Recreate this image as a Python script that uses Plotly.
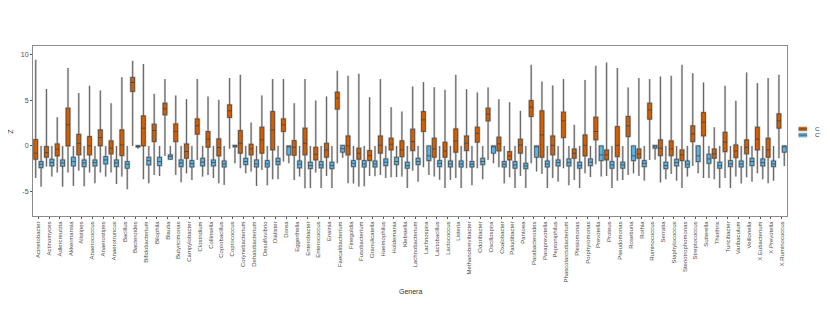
import plotly.graph_objects as go

GENERA = [
    "Acinetobacter", "Actinomyces", "Adlercreutzia", "Akkermansia", "Alistipes",
    "Anaerococcus", "Anaerostipes", "Anaerotruncus", "Bacillus", "Bacteroides",
    "Bifidobacterium", "Bilophila", "Blautia", "Butyricimonas", "Campylobacter",
    "Clostridium", "Collinsella", "Coprobacillus", "Coprococcus", "Corynebacterium",
    "Dehalobacterium", "Desulfovibrio", "Dialister", "Dorea", "Eggerthella",
    "Enterobacter", "Enterococcus", "Erwinia", "Faecalibacterium", "Finegoldia",
    "Fusobacterium", "Granulicatella", "Haemophilus", "Holdemania", "Klebsiella",
    "Lachnobacterium", "Lachnospira", "Lactobacillus", "Lactococcus", "Listeria",
    "Methanobrevibacter", "Odoribacter", "Oscillospira", "Oxalobacter", "Paludibacter",
    "Pantoea", "Parabacteroides", "Paraprevotella", "Peptoniphilus", "Phascolarctobacterium",
    "Plesiomonas", "Porphyromonas", "Prevotella", "Proteus", "Pseudomonas",
    "Roseburia", "Rothia", "Ruminococcus", "Serratia", "Staphylococcus",
    "Stenotrophomonas", "Streptococcus", "Sutterella", "Thiothrix", "Turicibacter",
    "Varibaculum", "Veillonella", "X.Eubacterium", "X.Prevotella", "X.Ruminococcus",
]

# group C (orange)
C_LO = [-3.5, -2.26, -2.9, -2.9, -2.7, -2.9, -2.9, -2.9, -3.35, 0,
        -3.64, -3.17, -1.09, -3.17, -3.0, -1.53, -3.17, -4.08, -0.3, -2.44,
        -2.8, -2.62, -3.64, -1.71, -3.72, -4.63, -2.91, -3.28, -1.9, -4.08,
        -4.44, -3.28, -3.17, -3.43, -3.35, -2.7, -2.33, -3.35, -4.6, -3.5,
        -2.44, -2.44, -1.53, -2.33, -3.43, -3.28, -1.9, -3.06, -3.5, -2.44,
        -3.72, -2.99, -2.0, -3.28, -3.79, -3.17, -3.28, -1.53, -4.0, -3.06,
        -4.6, -2.19, -3.5, -3.64, -3.5, -3.35, -3.43, -2.99, -4.08, -1.35]
C_Q1 = [-1.46, -1.24, -1.09, 0, -0.98, -0.98, 0, -0.87, -1.06, 5.94,
        0, 0.47, 3.39, 0.47, -1.35, 1.27, -0.15, -1.09, 3.1, -0.8,
        -0.98, -0.8, -0.44, 1.57, -1.02, -0.98, -1.53, -1.24, 4.01, -0.98,
        -1.46, -1.6, -0.8, -0.44, -1.17, -0.51, 1.57, -1.24, -1.24, -0.69,
        -0.51, 0.4, 2.73, -0.55, -1.53, -0.8, 3.21, -1.24, -0.98, 0.91,
        -1.35, -1.09, 0.66, -1.53, -1.17, 1.02, -1.35, 2.91, -1.06, -1.06,
        -1.6, 0.47, 1.09, -1.35, -0.62, -1.28, -0.87, -0.44, -1.24, 1.93]
C_MED = [-0.8, -0.73, -0.36, 2.3, 0.29, 0, 0.91, -0.25, 0.11, 6.92,
         1.93, 1.68, 4.04, 1.57, -0.62, 2.19, 0.73, -0.18, 3.83, 0.29,
         -0.33, 0.66, 1.75, 2.3, -0.15, 0.29, -0.91, -0.44, 5.21, 0,
         -0.8, -1.06, 0.07, 0.18, -0.44, 0.47, 2.84, -0.33, -0.55, 0.55,
         0.29, 1.38, 3.46, 0.22, -1.09, 0.11, 4.23, 1.2, 0.07, 2.73,
         -0.8, 0.07, 1.57, -0.98, 0.07, 2.19, -0.87, 3.93, -0.25, -0.33,
         -0.98, 1.31, 2.59, -0.87, 0.4, -0.55, -0.15, 0.73, -0.44, 2.73]
C_Q3 = [0.7, -0.07, 0.22, 4.12, 1.27, 1.02, 1.75, 0.55, 1.75, 7.47,
        3.28, 2.37, 4.66, 2.4, 0.22, 2.95, 1.57, 0.77, 4.48, 1.68,
        0.18, 2.04, 3.75, 2.95, 0.58, 1.93, -0.15, 0.29, 5.87, 1.09,
        -0.25, -0.51, 1.09, 0.84, 0.55, 1.82, 3.75, 0.84, 0.4, 1.86,
        1.09, 2.04, 4.12, 0.95, -0.62, 0.73, 4.95, 3.83, 1.09, 3.68,
        -0.33, 1.2, 3.13, -0.44, 2.11, 3.21, -0.33, 4.66, 0.66, 0.55,
        -0.44, 2.19, 3.64, -0.33, 1.49, 0.11, 0.66, 2.04, 0.84, 3.5]
C_HI = [9.4, 6.2, 3.13, 8.49, 5.76, 6.56, 6.05, 4.66, 7.5, 9.29,
        8.93, 5.68, 7.29, 5.5, 5.1, 7.3, 5.39, 5.03, 7.4, 7.76,
        2.55, 5.5, 7.29, 7.29, 4.66, 7.29, 4.95, 5.39, 8.2, 7.65,
        7.87, 5.32, 7.29, 4.23, 3.75, 6.49, 6.96, 6.41, 6.12, 7.76,
        6.19, 5.83, 6.38, 5.1, 4.77, 3.83, 8.85, 7.03, 6.59, 7.29,
        2.3, 7.2, 8.74, 9.1, 8.49, 6.38, 7.4, 7.29, 7.58, 7.65,
        8.85, 7.94, 6.92, 2.04, 6.56, 4.92, 8.01, 6.85, 7.4, 7.76]

# group C' (blue)
D_LO = [-4.45, -3.35, -4.45, -4.37, -4.4, -4.08, -3.35, -4.15, -4.74, -0.3,
        -4.08, -3.28, -1.5, -3.97, -3.72, -3.35, -3.5, -4.26, -1.9, -2.99,
        -4.37, -4.3, -3.64, -1.9, -3.35, -4.6, -4.6, -4.6, -1.3, -4.1,
        -4.4, -3.3, -3.5, -3.4, -4.6, -3.9, -3.17, -3.7, -3.7, -4.6,
        -4.3, -3.64, -1.9, -4.1, -4.6, -4.6, -2.8, -4.6, -3.9, -4.3,
        -4.6, -3.4, -3.35, -4.6, -3.72, -2.99, -3.79, -1.5, -3.64, -3.79,
        -3.35, -2.99, -3.5, -4.6, -4.6, -4.1, -3.9, -3.64, -3.79, -2.2]
D_Q1 = [-2.37, -2.19, -2.22, -2.19, -2.26, -2.19, -1.97, -2.26, -2.44, -0.12,
        -2.08, -2.15, -1.46, -2.26, -2.3, -2.19, -2.19, -2.3, -0.1, -2.04,
        -2.3, -2.3, -2.04, -0.98, -2.4, -2.48, -2.4, -2.48, -0.69, -2.26,
        -2.3, -2.3, -2.15, -2.04, -2.44, -2.04, -1.6, -2.26, -2.3, -2.3,
        -2.3, -2.04, -0.8, -2.3, -2.44, -2.48, -1.24, -2.3, -2.19, -2.19,
        -2.44, -2.15, -1.6, -2.44, -2.44, -1.6, -2.26, -0.25, -2.48, -2.19,
        -2.33, -1.71, -1.9, -2.44, -2.26, -2.3, -2.15, -2.19, -2.26, -0.69]
D_MED = [-2.0, -1.82, -1.86, -1.71, -1.86, -1.82, -1.53, -1.86, -2.0, -0.05,
         -1.6, -1.71, -1.15, -1.86, -1.93, -1.78, -1.82, -1.97, 0, -1.71,
         -1.97, -1.97, -1.71, -0.05, -2.0, -2.15, -2.08, -2.15, -0.3, -1.9,
         -1.97, -1.97, -1.78, -1.71, -2.15, -1.71, -1.09, -1.9, -1.97, -1.97,
         -2.0, -1.71, -0.05, -2.0, -2.08, -2.19, -0.05, -1.97, -1.82, -1.82,
         -2.15, -1.78, -0.98, -2.08, -2.08, -1.09, -1.9, -0.1, -2.15, -1.82,
         -2.0, -1.09, -1.42, -2.15, -1.97, -1.97, -1.71, -1.82, -1.97, -0.1]
D_Q3 = [-1.71, -1.46, -1.53, -1.24, -1.53, -1.53, -1.17, -1.53, -1.71, 0.02,
        -1.24, -1.24, -0.98, -1.53, -1.6, -1.35, -1.53, -1.64, 0.05, -1.35,
        -1.53, -1.6, -1.35, 0, -1.64, -1.78, -1.71, -1.78, 0.05, -1.6,
        -1.6, -1.64, -1.42, -1.24, -1.78, -1.35, 0, -1.6, -1.64, -1.64,
        -1.71, -1.35, 0, -1.71, -1.71, -1.9, 0, -1.64, -1.53, -1.42,
        -1.78, -1.42, 0, -1.71, -1.78, 0, -1.6, 0.05, -1.78, -1.46,
        -1.64, 0, -0.91, -1.78, -1.6, -1.64, -1.35, -1.42, -1.64, 0]
D_HI = [0, 0, 0, 0, 0, 0, 0, 0, 0, 0.05,
        0, 0, 0, 0, 0, 0, 0, 0, 0.05, 0,
        0, 0, 0, 0, 0, 0, 0, 0, 0.05, 0,
        0, 0, 0, 0, 0, 0, 0, 0, 0, 0,
        0, 0, 0, 0, 0, 0, 0, 0, 0, 0,
        0, 0, 0, 0, 0, 0, 0, 0.05, 0, 0,
        0, 0.05, 0, 0, 0, 0, 0, 0, 0, 0.05]

GROUPS = ["C", "C'"]
Y_TICKS = [-5, 0, 5, 10]

C_ORANGE = "#D55E00"
C_BLUE = "#56B4E9"
C_LINE = "#3a3a3a"
C_HALO = "rgba(165,165,165,0.6)"
FONT = "Liberation Sans Narrow, Arial Narrow, Liberation Sans, Arial, sans-serif"
TEXT_COL = "#4d4d4d"

fig = go.Figure()

series = [
    (GROUPS[0], C_ORANGE, C_LO, C_Q1, C_MED, C_Q3, C_HI),
    (GROUPS[1], C_BLUE, D_LO, D_Q1, D_MED, D_Q3, D_HI),
]

# grey halo behind each box / whisker
for name, color, lo, q1, med, q3, hi in series:
    fig.add_trace(go.Box(
        x=GENERA, lowerfence=lo, q1=q1, median=med, q3=q3, upperfence=hi,
        name=name, offsetgroup=name, showlegend=False,
        fillcolor="rgba(0,0,0,0)", line=dict(color=C_HALO, width=2.2),
        whiskerwidth=0, hoverinfo="skip",
    ))

for name, color, lo, q1, med, q3, hi in series:
    fig.add_trace(go.Box(
        x=GENERA, lowerfence=lo, q1=q1, median=med, q3=q3, upperfence=hi,
        name=name, offsetgroup=name, showlegend=False,
        fillcolor=color, line=dict(color=C_LINE, width=0.7),
        whiskerwidth=0,
    ))

# window body has an 8px margin, margins are compensated for it
fig.update_layout(
    width=830, height=320,
    margin=dict(l=25, r=51, t=38, b=112),
    paper_bgcolor="white", plot_bgcolor="white",
    boxmode="group", boxgap=0.0, boxgroupgap=0.28,
    font=dict(family=FONT, size=6, color=TEXT_COL),
    showlegend=False,
)

fig.update_xaxes(
    type="category", range=[-0.5, len(GENERA) - 0.5],
    tickangle=-90, tickfont=dict(family=FONT, size=6, color=TEXT_COL),
    ticks="outside", ticklen=2, tickcolor="#555555", tickwidth=0.6,
    showline=True, mirror=True, linecolor="#8c8c8c", linewidth=1,
    showgrid=False, zeroline=False, automargin=False,
)
fig.update_yaxes(
    range=[-7.65, 10.9], tickvals=Y_TICKS, ticktext=[str(v) for v in Y_TICKS],
    tickfont=dict(family=FONT, size=7, color=TEXT_COL),
    ticks="outside", ticklen=2, tickcolor="#555555", tickwidth=0.6,
    showline=True, mirror=True, linecolor="#8c8c8c", linewidth=1,
    showgrid=False, zeroline=False, automargin=False,
)

fig.add_annotation(
    text="Genera", xref="paper", yref="paper", x=0.5, y=-0.476,
    showarrow=False, font=dict(family=FONT, size=7, color="#333333"),
)
fig.add_annotation(
    text="Z", xref="paper", yref="paper", x=-0.038, y=0.5,
    textangle=-90, showarrow=False, font=dict(family=FONT, size=7, color="#333333"),
)

# small legend keys in the right margin
legend_keys = [(GROUPS[0], C_ORANGE, 0.512), (GROUPS[1], C_BLUE, 0.476)]
for label, color, yc in legend_keys:
    fig.add_shape(type="rect", xref="paper", yref="paper",
                  x0=1.0155, x1=1.0265, y0=yc - 0.012, y1=yc + 0.012,
                  fillcolor=color, line=dict(color=C_HALO, width=1))
    fig.add_shape(type="line", xref="paper", yref="paper",
                  x0=1.0155, x1=1.0265, y0=yc, y1=yc,
                  line=dict(color=C_LINE, width=0.7))
    fig.add_annotation(text=label, xref="paper", yref="paper", x=1.034, y=yc,
                       xanchor="left", yanchor="middle", showarrow=False,
                       font=dict(family=FONT, size=6, color="#333333"))

fig.write_html("out.html")
